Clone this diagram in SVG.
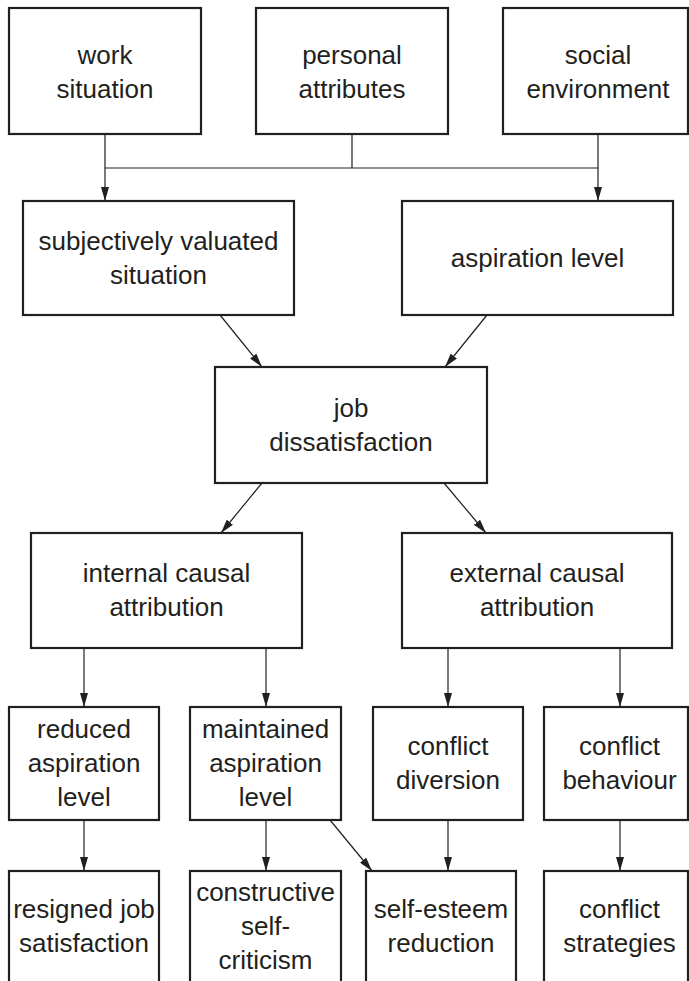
<svg xmlns="http://www.w3.org/2000/svg" width="689" height="981" viewBox="0 0 689 981">
<defs>
<style>
.box{fill:#fff;stroke:#231f20;stroke-width:2.2}
.lbl{font-family:"Liberation Sans",Arial,sans-serif;font-size:26px;fill:#231f20;text-anchor:middle}
.con{fill:none;stroke:#231f20;stroke-width:1.2}
.arr{fill:none;stroke:#231f20;stroke-width:1.2;marker-end:url(#ah)}
</style>
<marker id="ah" viewBox="0 0 14 8" refX="14" refY="4" markerWidth="14" markerHeight="8" markerUnits="userSpaceOnUse" orient="auto">
<path d="M0,0 L14,4 L0,8 Z" fill="#231f20"/>
</marker>
</defs>
<rect width="689" height="981" fill="#fff"/>
<g id="connectors">
<path class="con" d="M105,134 V168 M352,134 V168 M598,134 V168 M105,168 H598"/>
<path class="arr" d="M105,168 V201"/>
<path class="arr" d="M598,168 V201"/>
<path class="arr" d="M220,315 L262,367"/>
<path class="arr" d="M487,315 L445,367"/>
<path class="arr" d="M262,483 L221,533"/>
<path class="arr" d="M444,483 L486,533"/>
<path class="arr" d="M84,648 V707"/>
<path class="arr" d="M266,648 V707"/>
<path class="arr" d="M448,648 V707"/>
<path class="arr" d="M620,648 V707"/>
<path class="arr" d="M84,820 V871"/>
<path class="arr" d="M266,820 V871"/>
<path class="arr" d="M448,820 V871"/>
<path class="arr" d="M620,820 V871"/>
<path class="arr" d="M330,820 L372,871"/>
</g>
<g id="work-situation"><rect class="box" x="9" y="8" width="192" height="126"/><text class="lbl" x="105" y="64">work</text><text class="lbl" x="105" y="98">situation</text></g>
<g id="personal-attributes"><rect class="box" x="256" y="8" width="192" height="126"/><text class="lbl" x="352" y="64">personal</text><text class="lbl" x="352" y="98">attributes</text></g>
<g id="social-environment"><rect class="box" x="503" y="8" width="185" height="126"/><text class="lbl" x="598" y="64">social</text><text class="lbl" x="598" y="98">environment</text></g>
<g id="subjectively-valuated-situation"><rect class="box" x="23" y="201" width="271" height="114"/><text class="lbl" x="158.5" y="250">subjectively valuated</text><text class="lbl" x="158.5" y="284">situation</text></g>
<g id="aspiration-level"><rect class="box" x="402" y="201" width="271" height="114"/><text class="lbl" x="537.5" y="267">aspiration level</text></g>
<g id="job-dissatisfaction"><rect class="box" x="215" y="367" width="272" height="116"/><text class="lbl" x="351" y="417">job</text><text class="lbl" x="351" y="451">dissatisfaction</text></g>
<g id="internal-causal-attribution"><rect class="box" x="31" y="533" width="271" height="115"/><text class="lbl" x="166.5" y="582">internal causal</text><text class="lbl" x="166.5" y="616">attribution</text></g>
<g id="external-causal-attribution"><rect class="box" x="402" y="533" width="270" height="115"/><text class="lbl" x="537" y="582">external causal</text><text class="lbl" x="537" y="616">attribution</text></g>
<g id="reduced-aspiration-level"><rect class="box" x="9" y="707" width="150" height="113"/><text class="lbl" x="84" y="738">reduced</text><text class="lbl" x="84" y="772">aspiration</text><text class="lbl" x="84" y="806">level</text></g>
<g id="maintained-aspiration-level"><rect class="box" x="190" y="707" width="151" height="113"/><text class="lbl" x="265.5" y="738">maintained</text><text class="lbl" x="265.5" y="772">aspiration</text><text class="lbl" x="265.5" y="806">level</text></g>
<g id="conflict-diversion"><rect class="box" x="373" y="707" width="150" height="113"/><text class="lbl" x="448" y="755">conflict</text><text class="lbl" x="448" y="789">diversion</text></g>
<g id="conflict-behaviour"><rect class="box" x="544" y="707" width="144" height="113"/><text class="lbl" x="619.5" y="755">conflict</text><text class="lbl" x="619.5" y="789">behaviour</text></g>
<g id="resigned-job-satisfaction"><rect class="box" x="9" y="871" width="150" height="130"/><text class="lbl" x="84" y="918">resigned job</text><text class="lbl" x="84" y="952">satisfaction</text></g>
<g id="constructive-self-criticism"><rect class="box" x="190" y="871" width="151" height="130"/><text class="lbl" x="265.5" y="901">constructive</text><text class="lbl" x="265.5" y="935">self-</text><text class="lbl" x="265.5" y="969">criticism</text></g>
<g id="self-esteem-reduction"><rect class="box" x="366" y="871" width="150" height="130"/><text class="lbl" x="441" y="918">self-esteem</text><text class="lbl" x="441" y="952">reduction</text></g>
<g id="conflict-strategies"><rect class="box" x="544" y="871" width="144" height="130"/><text class="lbl" x="619.5" y="918">conflict</text><text class="lbl" x="619.5" y="952">strategies</text></g>
</svg>
